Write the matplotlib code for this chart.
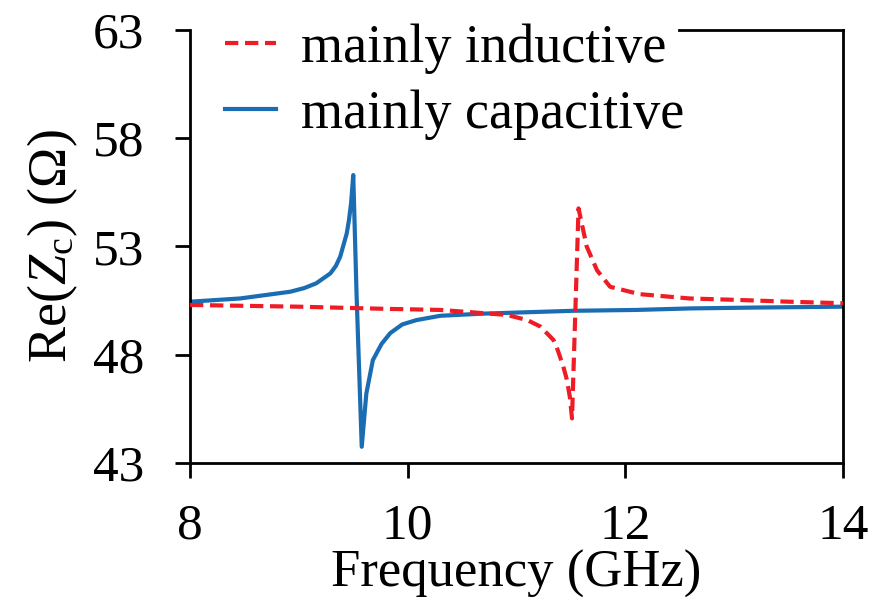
import matplotlib
matplotlib.use("Agg")
import matplotlib.pyplot as plt

plt.rcParams['font.family'] = ['Liberation Serif', 'DejaVu Serif']
plt.rcParams['mathtext.fontset'] = 'custom'
plt.rcParams['mathtext.rm'] = 'Liberation Serif'
plt.rcParams['mathtext.it'] = 'Liberation Serif:italic'

# curva capacitiva (azul)
f_cap = [8.0, 8.46, 8.92, 9.05, 9.16, 9.29, 9.34, 9.38, 9.44, 9.46, 9.48, 9.50, 9.53,
         9.578, 9.62, 9.68, 9.76, 9.84, 9.95, 10.08, 10.3, 10.7, 11.2, 11.52, 12.1,
         12.6, 13.2, 14.0]
re_cap = [50.45, 50.6, 50.91, 51.08, 51.3, 51.76, 52.1, 52.53, 53.6, 54.2, 55.0, 56.3,
          50.85, 43.75, 46.2, 47.75, 48.5, 49.0, 49.4, 49.6, 49.8, 49.9, 49.98, 50.03,
          50.07, 50.14, 50.18, 50.22]

# curva indutiva (vermelha, tracejada)
f_ind = [8.0, 9.0, 9.8, 10.3, 10.91, 11.1, 11.22, 11.34, 11.38, 11.43, 11.46, 11.49,
         11.51, 11.54, 11.57, 11.645, 11.74, 11.86, 12.13, 12.59, 13.05, 13.5, 14.0]
re_ind = [50.3, 50.22, 50.12, 50.07, 49.84, 49.6, 49.3, 48.68, 48.2, 47.45, 46.9, 46.06,
          45.06, 49.9, 54.76, 53.0, 51.9, 51.14, 50.8, 50.6, 50.53, 50.45, 50.38]

x_ticks = [8, 10, 12, 14]
y_ticks = [43, 48, 53, 58, 63]

fig = plt.figure(figsize=(8.74, 6.02), dpi=100)
# eixos: x de 190 a 843 px, y de 30 a 463 px
ax = fig.add_axes([190 / 874, 1 - 463 / 602, 653 / 874, 433 / 602])

ax.plot(f_ind, re_ind, color='#ee1c25', lw=3, ls=(0, (3.2, 1.6)),
        label='mainly inductive', zorder=3)
ax.plot(f_cap, re_cap, color='#1b6db3', lw=3, label='mainly capacitive', zorder=2)

ax.set_xlim(8, 14)
ax.set_ylim(43, 63)
ax.set_xticks(x_ticks)
ax.set_yticks(y_ticks)
ax.tick_params(direction='out', length=11, width=2, labelsize=37)
ax.tick_params(axis='x', pad=18)
ax.tick_params(axis='y', pad=22)
for s in ax.spines.values():
    s.set_linewidth(2)
# a legenda tapa a borda superior
ax.spines['top'].set_bounds(12.49, 14)

ax.set_xlabel('Frequency (GHz)', fontsize=38)
ax.xaxis.set_label_coords(0.5, -0.2)
ax.set_ylabel(r'Re($Z_\mathrm{c}$) ($\Omega$)', fontsize=39, labelpad=9)

leg = ax.legend(loc='upper left', bbox_to_anchor=(0.02, 1.065), fontsize=39,
                frameon=False, handlelength=0.95, handletextpad=0.46,
                labelspacing=0.28, borderpad=0.4, borderaxespad=0)

fig.savefig('out.png', dpi=100)
